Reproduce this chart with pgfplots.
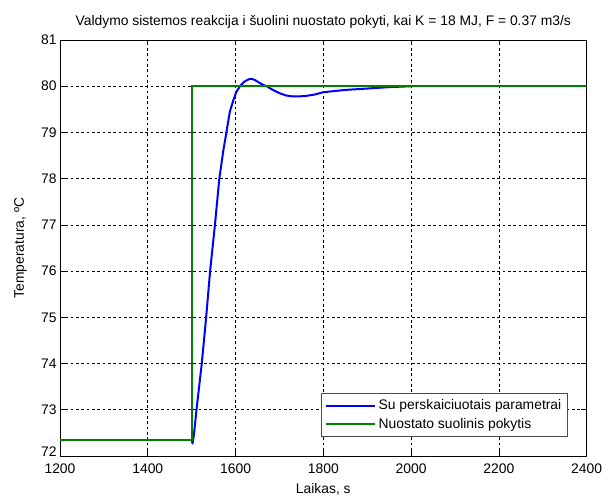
\documentclass[border=0pt]{standalone}
\usepackage{pgfplots}
\pgfplotsset{compat=1.18}
\usepackage{fontspec}
\setmainfont{Liberation Sans}

\definecolor{mblue}{RGB}{0,0,255}
\definecolor{mgreen}{RGB}{0,128,0}

\begin{document}
\begin{tikzpicture}
\useasboundingbox (-45pt,-30.75pt) rectangle (415.5pt,342pt);
\begin{axis}[
    at={(0,0)}, anchor=south west,
    scale only axis,
    width=395pt, height=312pt,
    xmin=1200, xmax=2400,
    ymin=72, ymax=81,
    xtick={1200,1400,...,2400},
    ytick={73,74,...,81},
    extra y ticks={72},
    extra y tick style={grid=none, yticklabel style={yshift=3pt}},
    tick align=inside,
    major tick length=4pt,
    grid=major,
    major grid style={black, line width=0.5pt, dash pattern=on 2pt off 2pt},
    axis line style={black, line width=0.6pt},
    tick style={black, line width=0.5pt},
    /pgf/number format/assume math mode=true,
    /pgf/number format/1000 sep={},
    font=\fontsize{10.4}{12}\selectfont,
    ticklabel style={font=\fontsize{10.4}{12}\selectfont},
    xticklabel style={yshift=-2pt},
    yticklabel style={xshift=1pt},
    title={Valdymo sistemos reakcija i šuolini nuostato pokyti, kai K = 18 MJ, F = 0.37 m3/s},
    title style={yshift=-1pt, font=\fontsize{10.4}{12}\selectfont},
    xlabel={Laikas, s},
    ylabel={Temperatura, ºC},
    xlabel style={yshift=-0.5pt},
    ylabel style={yshift=4pt},
    legend style={
        at={(0.964,0.046)}, anchor=south east,
        draw=black!70, line width=0.6pt,
        font=\fontsize{10.4}{12}\selectfont,
        legend cell align=left,
        inner sep=2.5pt, row sep=1pt,
    },
    legend image post style={line width=1.5pt},
    legend image code/.code={\draw[#1] (0cm,0cm) -- (1.3cm,0cm);},
]
\addplot[mblue, line width=1.5pt, line join=round] coordinates {
    (1500,72.35) (1502,72.27) (1505,72.45) (1511,73.0) (1517,73.5)
    (1523,74.0) (1533,75.0) (1542,76.0) (1553,77.0) (1563,78.0)
    (1572,78.6) (1580,79.05) (1587,79.45) (1595,79.7) (1602,79.88)
    (1610,80.0) (1620,80.1) (1630,80.15) (1637,80.16) (1645,80.13)
    (1655,80.07) (1665,80.02) (1671,80.0) (1685,79.92) (1700,79.85)
    (1715,79.8) (1730,79.78) (1745,79.78) (1760,79.79) (1780,79.82)
    (1800,79.87) (1850,79.92) (1900,79.95) (1950,79.98) (2000,80.0)
};
\addlegendentry{Su perskaiciuotais parametrai}
\addplot[mgreen, line width=1.5pt] coordinates {
    (1200,72.35) (1500,72.35) (1500,80.0) (2400,80.0)
};
\addlegendentry{Nuostato suolinis pokytis}
\end{axis}
\end{tikzpicture}
\end{document}
